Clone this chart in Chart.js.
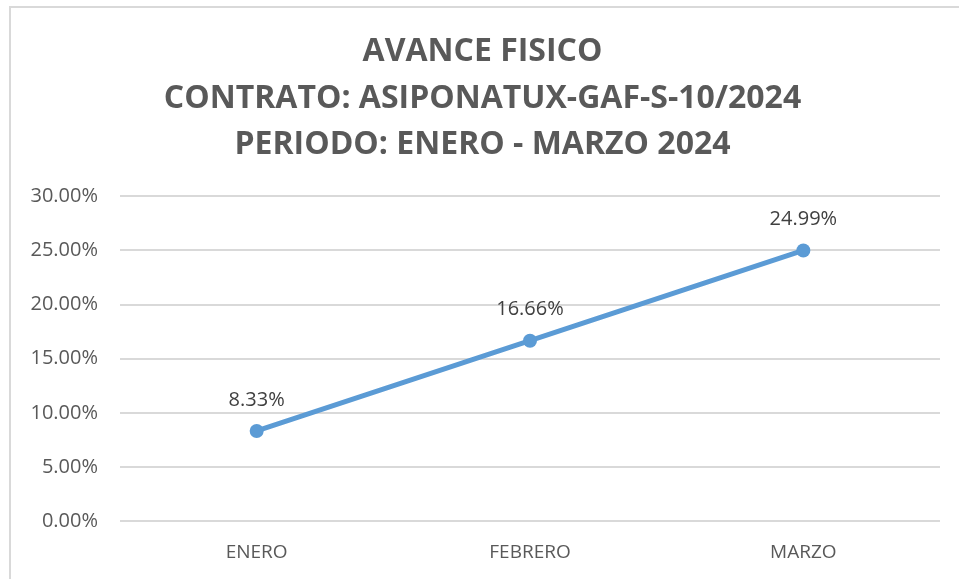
<!DOCTYPE html>
<html>
<head>
<meta charset="utf-8">
<script src="https://cdn.jsdelivr.net/npm/chart.js@4.4.1/dist/chart.umd.min.js"></script>
<style>
  body { margin: 0; background: #fff; }
  #frame { position: absolute; left: 9px; top: 6px; width: 960px; height: 600px; border: 2px solid #d9d9d9; box-sizing: border-box; }
  #wrap { position: absolute; left: 0; top: 0; width: 959px; height: 579px; }
</style>
</head>
<body>
<div id="frame"></div>
<div id="wrap"><canvas id="avanceChart" width="959" height="579"></canvas></div>
<script>
// DATA
var meses = ["ENERO", "FEBRERO", "MARZO"];
var avance = [8.33, 16.66, 24.99];
var tituloLineas = ["AVANCE FISICO", "CONTRATO: ASIPONATUX-GAF-S-10/2024", "PERIODO: ENERO - MARZO 2024"];
var yMin = 0, yMax = 30, yPaso = 5;

// etiquetas encima de cada punto
var etiquetasPlugin = {
    id: 'etiquetas',
    afterDatasetsDraw: function(chart) {
        var ctx = chart.ctx;
        var meta = chart.getDatasetMeta(0);
        ctx.save();
        ctx.font = '20px "Open Sans"';
        ctx.fillStyle = '#404040';
        ctx.textAlign = 'center';
        ctx.textBaseline = 'middle';
        meta.data.forEach(function(pt, i) {
            ctx.fillText(avance[i].toFixed(2) + '%', pt.x, pt.y - 31);
        });
        ctx.restore();
    }
};

var ctx = document.getElementById("avanceChart").getContext('2d');
var avanceChart = new Chart(ctx, {
    type: 'line',
    data: {
        labels: meses,
        datasets: [{
            data: avance,
            borderColor: '#5B9BD5',
            backgroundColor: '#5B9BD5',
            borderWidth: 5,
            pointRadius: 7,
            pointBorderWidth: 0,
            tension: 0
        }]
    },
    options: {
        animation: false,
        responsive: false,
        layout: { padding: { left: 25, right: 19, top: 4, bottom: 3 } },
        plugins: {
            legend: { display: false },
            tooltip: { enabled: false },
            title: {
                display: true,
                text: tituloLineas,
                color: '#595959',
                font: { family: '"Open Sans"', size: 32, weight: 'bold', lineHeight: 1.45 },
                padding: { top: 25, bottom: 28 }
            }
        },
        scales: {
            x: {
                offset: true,
                grid: { display: false },
                border: { display: false },
                ticks: { color: '#595959', font: { family: '"Open Sans"', size: 19 }, padding: 12 }
            },
            y: {
                min: yMin,
                max: yMax,
                afterFit: function(s) { s.width = 95; },
                ticks: {
                    stepSize: yPaso,
                    color: '#595959',
                    font: { family: '"Open Sans"', size: 20 },
                    padding: 22,
                    callback: function(v) { return v.toFixed(2) + '%'; }
                },
                grid: { color: '#d9d9d9', lineWidth: 2, drawTicks: false },
                border: { display: false }
            }
        }
    },
    plugins: [etiquetasPlugin]
});
</script>
</body>
</html>
